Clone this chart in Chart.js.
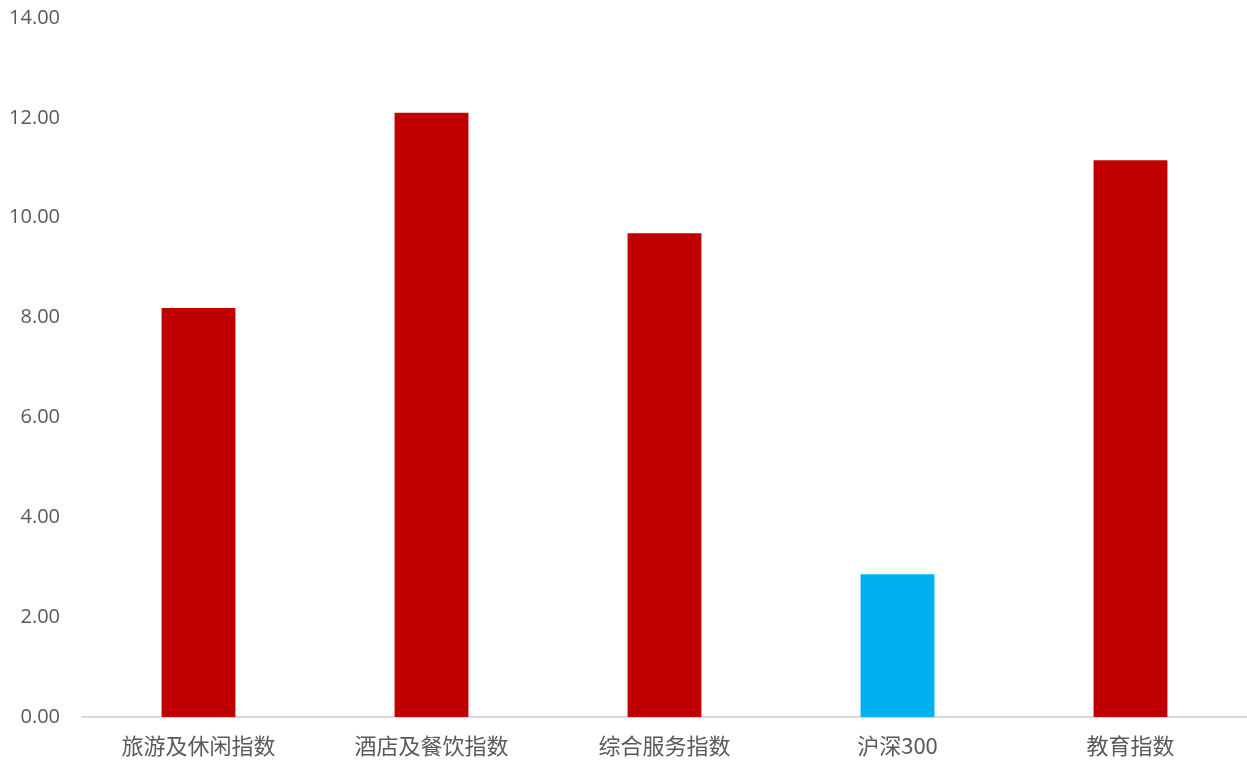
<!DOCTYPE html>
<html>
<head>
<meta charset="utf-8">
<script src="https://cdn.jsdelivr.net/npm/chart.js@4/dist/chart.umd.min.js"></script>
<style>
  html, body { margin: 0; padding: 0; background: #fff; }
  #wrap { width: 1247px; height: 762px; }
</style>
</head>
<body>
<div id="wrap"><canvas id="myChart" width="1247" height="762"></canvas></div>
<script>
// categories and values
let index_names = ['旅游及休闲指数', '酒店及餐饮指数', '综合服务指数', '沪深300', '教育指数'];
let index_values = [8.19, 12.10, 9.69, 2.86, 11.15];
let bar_colors = ['#C00000', '#C00000', '#C00000', '#00B0F0', '#C00000'];
let y_min = 0;
let y_max = 14;
let y_step = 2;

const ctx = document.getElementById('myChart').getContext('2d');
const myChart = new Chart(ctx, {
    type: 'bar',
    data: {
        labels: index_names,
        datasets: [{
            data: index_values,
            backgroundColor: bar_colors,
            borderWidth: 0,
            barPercentage: 0.317,
            categoryPercentage: 1
        }]
    },
    options: {
        responsive: false,
        animation: false,
        layout: { padding: { top: 18, right: 0, left: 0, bottom: 0 } },
        plugins: {
            legend: { display: false },
            tooltip: { enabled: false }
        },
        scales: {
            x: {
                grid: { display: false },
                border: { display: true, color: '#d9d9d9', width: 2 },
                ticks: {
                    color: '#595959',
                    padding: 7,
                    maxRotation: 0,
                    font: { family: '"Noto Sans CJK SC", sans-serif', size: 22 }
                },
                afterFit: (scale) => { scale.height = 45; scale.paddingLeft = 0; scale.paddingRight = 0; }
            },
            y: {
                min: y_min,
                max: y_max,
                grid: { display: false, drawTicks: false },
                border: { display: false },
                ticks: {
                    stepSize: y_step,
                    color: '#595959',
                    padding: 22,
                    font: { family: '"Open Sans", sans-serif', size: 20 },
                    callback: (v) => v.toFixed(2)
                },
                afterFit: (scale) => { scale.width = 82; scale.paddingTop = 0; scale.paddingBottom = 0; }
            }
        }
    }
});
</script>
</body>
</html>
